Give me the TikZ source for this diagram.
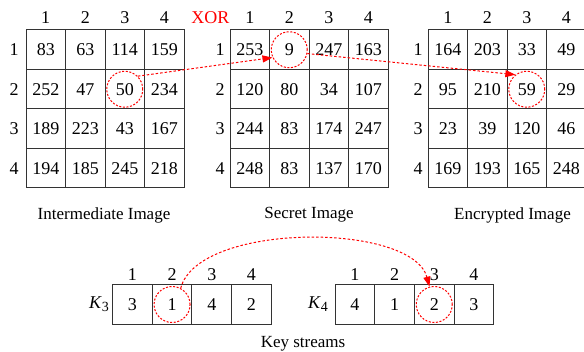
\documentclass[tikz,border=0pt]{standalone}
\usepackage{fontspec}
\setmainfont{Liberation Serif}
\usetikzlibrary{arrows.meta}
\begin{document}
\begin{tikzpicture}[x=1pt,y=-1pt, font=\fontsize{18}{21}\selectfont,
  cellbox/.style={draw=black!80, line width=1pt, minimum width=39.5pt, minimum height=39.5pt, inner sep=0pt},
  keybox/.style={draw=black!80, line width=1pt, minimum width=39.7pt, minimum height=40pt, inner sep=0pt},
  lbl/.style={inner sep=0pt},
  captext/.style={inner sep=0pt, font=\fontsize{17}{20}\selectfont},
  mark circle/.style={draw=red, circle, line width=1pt, dash pattern=on 2pt off 1.6pt, minimum size=36pt, inner sep=0pt},
  redarrow/.style={draw=red, line width=1pt, dash pattern=on 2.5pt off 2pt, -{Triangle[length=10pt,width=7pt]}}]
\useasboundingbox (0,0) rectangle (584,352);
% grid 1
\foreach \row [count=\r] in {{83,63,114,159},{252,47,50,234},{189,223,43,167},{194,185,245,218}}{
  \foreach \v [count=\c] in \row {
    \node[cellbox] (a-\r-\c) at (6.25+\c*39.5, 10.25+\r*39.5) {\v};
  }
}
% grid 2
\foreach \row [count=\r] in {{253,9,247,163},{120,80,34,107},{244,83,174,247},{248,83,137,170}}{
  \foreach \v [count=\c] in \row {
    \node[cellbox] (b-\r-\c) at (210.25+\c*39.5, 10.25+\r*39.5) {\v};
  }
}
% grid 3
\foreach \row [count=\r] in {{164,203,33,49},{95,210,59,29},{23,39,120,46},{169,193,165,248}}{
  \foreach \v [count=\c] in \row {
    \node[cellbox] (e-\r-\c) at (408.25+\c*39.5, 10.25+\r*39.5) {\v};
  }
}
% headers and row labels
\foreach \i in {1,2,3,4}{
  \node[lbl] (ha-\i) at (6.25+\i*39.5, 18) {\i};
  \node[lbl] (hb-\i) at (210.25+\i*39.5, 18) {\i};
  \node[lbl] (he-\i) at (408.25+\i*39.5, 18) {\i};
  \node[lbl] (ra-\i) at (14, 10.25+\i*39.5) {\i};
  \node[lbl] (rb-\i) at (220, 10.25+\i*39.5) {\i};
  \node[lbl] (re-\i) at (418, 10.25+\i*39.5) {\i};
}
\node[lbl, text=red] (xor) at (210.5, 18) {XOR};
\node[captext] (capa) at (104, 215) {Intermediate Image};
\node[captext] (capb) at (309, 215) {Secret Image};
\node[captext] (cape) at (512.5, 215) {Encrypted Image};
% key streams
\foreach \v [count=\c] in {3,1,4,2}{
  \node[keybox] (k3-\c) at (92.65+\c*39.7, 304.5) {\v};
  \node[lbl] (k3h-\c) at (92.65+\c*39.7, 275) {\c};
}
\foreach \v [count=\c] in {4,1,2,3}{
  \node[keybox] (k4-\c) at (315.15+\c*39.7, 304.5) {\v};
  \node[lbl] (k4h-\c) at (315.15+\c*39.7, 275) {\c};
}
\node[lbl, anchor=east] (k3l) at (109, 304.5) {\textit{K}\raisebox{-0.35ex}{\fontsize{14}{16}\selectfont 3}};
\node[lbl, anchor=east] (k4l) at (328, 304.5) {\textit{K}\raisebox{-0.35ex}{\fontsize{14}{16}\selectfont 4}};
\node[captext] (capk) at (303, 344) {Key streams};
% circles
\node[mark circle] (c50) at (a-2-3) {};
\node[mark circle] (c9) at (b-1-2) {};
\node[mark circle] (c59) at (e-2-3) {};
\node[mark circle] (c1) at (k3-2) {};
\node[mark circle] (c2) at (k4-3) {};
% arrows
\draw[redarrow] (c50.45) -- (c9.205);
\draw[redarrow] (c9.-12) -- (c59.128);
\draw[redarrow] (c1.62) .. controls (198,222) and (412,222) .. (c2.105);
\end{tikzpicture}
\end{document}
